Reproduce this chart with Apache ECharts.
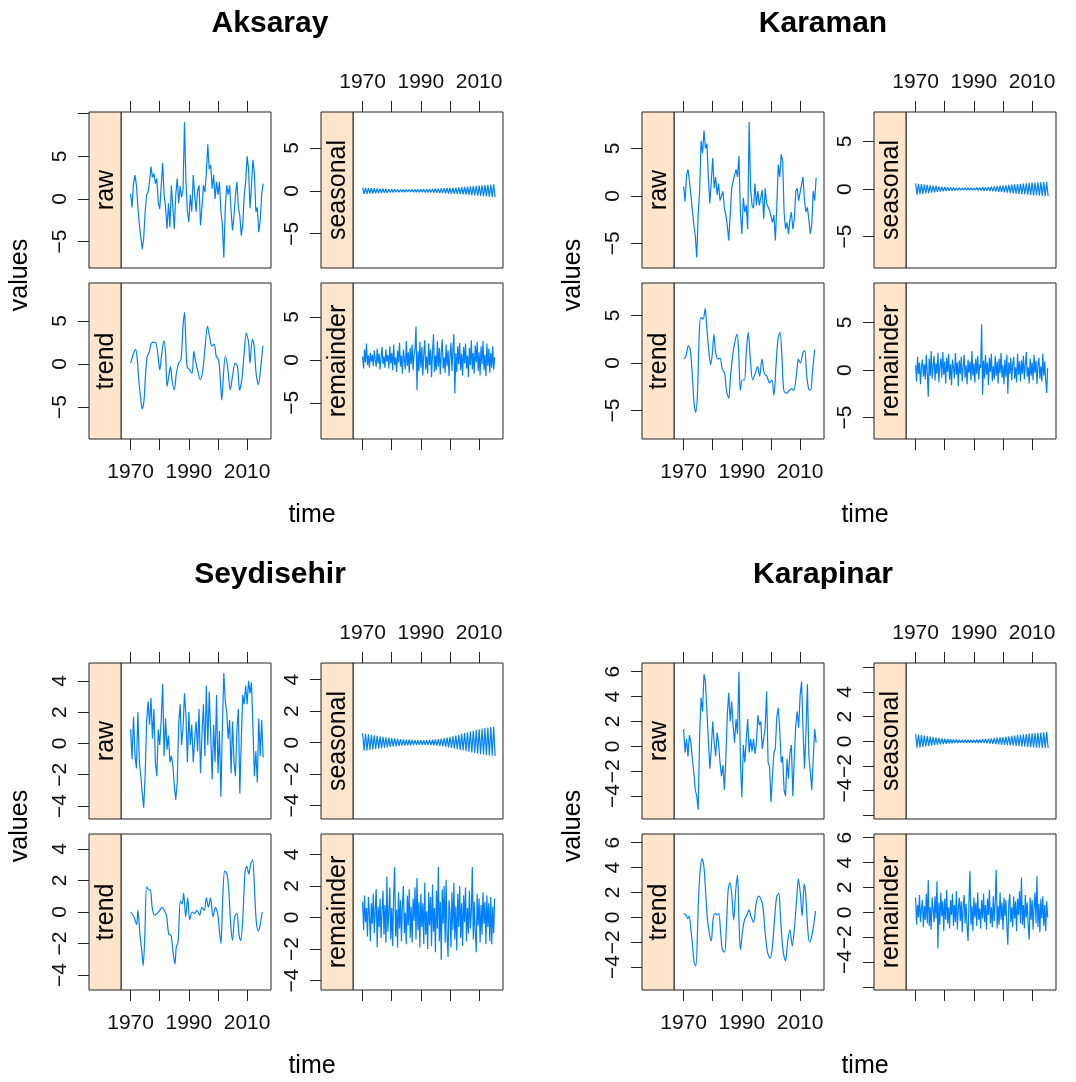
<!DOCTYPE html>
<html>
<head>
<meta charset="utf-8">
<title>STL decomposition by station</title>
<script src="https://cdn.jsdelivr.net/npm/echarts@6/dist/echarts.min.js"></script>
<style>
  html, body { margin: 0; padding: 0; background: #fff; }
  #chart { width: 1076px; height: 1082px; }
</style>
</head>
<body>
<div id="chart"></div>
<script>
// ---- data ----
const stations = ['Aksaray', 'Karaman', 'Seydisehir', 'Karapinar']
const components = ['raw', 'seasonal', 'trend', 'remainder']
const yearTicks = [1970, 1980, 1990, 2000, 2010]
const yearLabels = [1970, 1990, 2010]

// raw: one value every half year from 1970.0
const aksarayRaw = [0.6, -1.0, 1.8, 2.8, 1.6, -1.0, -3.0, -4.5, -5.9, -4.6, -1.5, 0.5, 0.8, 2.0, 3.8, 2.5, 3.0, 1.8, 2.4, -0.4,
  -1.2, 1.5, 4.2, 0.5, -1.0, -3.5, -0.5, -3.3, 1.6, -1.0, -3.5, 0.5, 2.4, -0.5, 1.5, 0.2, 1.0, 9.0, 2.0, -1.5,
  -2.7, 0.5, -1.5, 2.8, 0.5, -1.5, 1.0, 1.6, -3.1, -1.0, 1.6, 0.8, 3.0, 6.4, 3.5, 4.0, 1.2, 2.8, 0.0, 2.0,
  0.5, 2.0, -1.5, -3.0, -6.9, -1.0, 1.6, 0.5, 1.6, -1.5, -3.7, -2.0, 0.5, 2.0, -1.0, -2.0, -4.3, -3.0, 0.4, 2.0,
  5.0, 3.5, -1.1, 1.5, 4.6, 3.0, -1.5, -1.0, -3.9, -2.5, 0.5, 1.8]
const karamanRaw = [1.0, -0.6, 2.2, 2.8, 1.6, 1.8, -1.5, -3.0, -4.2, -6.5, -2.0, 0.5, 5.8, 4.5, 6.9, 5.0, 5.5, 2.0, -0.8, 1.5,
  4.0, 0.8, 2.0, 0.1, 1.3, -0.5, -0.6, 0.5, -1.3, -2.0, -3.1, -4.7, -2.0, 0.8, 1.5, 2.2, 2.8, 2.0, 4.2, -1.7,
  -4.0, -0.2, -1.7, -1.0, -3.5, 7.8, 0.8, -1.0, -1.3, 1.3, -1.0, 0.5, -1.0, -0.2, 0.6, -2.4, 0.8, -0.8, -0.6, -1.5,
  -1.7, -2.8, -2.0, -4.7, -1.0, 3.3, 2.0, 4.4, 3.7, -1.7, -3.5, -2.8, -4.0, -2.5, -1.7, -3.5, -2.5, 0.5, 0.8, -0.5,
  -0.6, 1.2, 2.0, -0.5, -1.7, -1.2, -2.5, -4.0, -3.0, 0.5, -0.5, 1.9]
const seydisehirRaw = [0.9, -1.0, 1.7, -0.8, -1.6, 2.0, -1.2, -2.1, -3.2, -4.1, -2.0, 1.4, 2.7, 1.2, 2.9, 0.3, 2.2, -1.2, -2.1, 0.9,
  -0.1, 1.5, 3.8, -0.8, 1.6, -0.4, 0.5, -1.2, -0.8, -1.4, -2.7, -3.6, -2.5, 1.2, 2.5, -0.1, 1.0, 3.2, 1.8, -1.2,
  2.0, -0.1, 1.2, -1.2, 0.3, 1.4, -0.5, 2.2, -1.9, 0.6, 2.5, -0.8, 3.7, -0.1, 3.3, 0.5, -2.3, 1.2, -1.2, 3.1,
  -1.9, 0.8, -3.4, 1.0, 4.5, 2.7, 2.0, 0.3, 1.5, -1.9, 1.4, -1.2, -2.1, 0.9, 2.2, -3.2, 0.2, 3.1, 2.5, 3.7,
  2.5, 4.0, 3.2, 3.9, 1.0, -2.1, -0.5, -2.5, 1.6, -0.8, 1.5, -0.9]
const karapinarRaw = [1.4, -0.5, 0.6, -0.8, 0.9, 0.3, -1.0, -2.1, -3.5, -4.0, -5.1, 0.9, 3.9, 2.8, 5.8, 5.2, 2.8, 0.5, -1.8, -0.2,
  2.0, 0.3, -0.8, 1.1, 0.3, -1.3, -2.4, -1.5, -3.5, -1.0, 2.5, 4.3, 2.0, 3.6, 1.7, 0.3, 2.2, 1.0, 6.0, -1.3,
  -4.1, 0.1, -1.3, 0.5, 2.2, -0.5, 0.6, -0.4, 0.6, -0.6, 0.3, 2.5, 1.7, 2.0, -0.2, 0.6, 1.5, 4.4, -1.3, -1.6,
  -4.5, -2.4, -0.5, -0.2, 2.4, 3.1, 1.4, -1.3, -0.8, -3.5, -4.0, -1.0, -2.6, -0.5, 0.1, -4.0, -1.0, 1.7, 2.8, 1.5,
  4.1, 5.2, 1.4, -1.8, 1.0, 5.0, -0.8, -2.0, -3.5, -1.0, 1.4, 0.3]

// seasonal: alternating half-year extremes from 1970.0
const aksaraySeasonal = [0.38, -0.36, 0.36, -0.35, 0.34, -0.33, 0.32, -0.31, 0.30, -0.29, 0.28, -0.27, 0.26, -0.25, 0.24, -0.23, 0.22, -0.21, 0.20, -0.20,
  0.19, -0.18, 0.18, -0.17, 0.17, -0.16, 0.16, -0.15, 0.15, -0.15, 0.15, -0.14, 0.15, -0.14, 0.15, -0.15, 0.16, -0.15, 0.17, -0.16,
  0.18, -0.17, 0.19, -0.18, 0.20, -0.19, 0.21, -0.20, 0.22, -0.21, 0.24, -0.23, 0.26, -0.25, 0.28, -0.27, 0.30, -0.29, 0.32, -0.31,
  0.34, -0.33, 0.36, -0.35, 0.38, -0.37, 0.40, -0.39, 0.43, -0.42, 0.46, -0.45, 0.49, -0.48, 0.52, -0.51, 0.55, -0.54, 0.58, -0.57,
  0.61, -0.60, 0.64, -0.63, 0.67, -0.66, 0.70, -0.69, 0.72, -0.71, 0.75, -0.73]
const karamanSeasonal = [0.60, -0.58, 0.56, -0.54, 0.52, -0.50, 0.48, -0.46, 0.44, -0.42, 0.40, -0.38, 0.36, -0.34, 0.32, -0.30, 0.28, -0.27, 0.25, -0.24,
  0.22, -0.21, 0.20, -0.19, 0.18, -0.17, 0.16, -0.15, 0.14, -0.14, 0.13, -0.13, 0.12, -0.12, 0.12, -0.12, 0.12, -0.12, 0.13, -0.12,
  0.14, -0.13, 0.15, -0.14, 0.16, -0.15, 0.18, -0.17, 0.20, -0.19, 0.22, -0.21, 0.25, -0.24, 0.28, -0.27, 0.31, -0.30, 0.34, -0.33,
  0.37, -0.36, 0.40, -0.39, 0.43, -0.42, 0.46, -0.45, 0.49, -0.48, 0.52, -0.51, 0.55, -0.54, 0.58, -0.57, 0.61, -0.60, 0.64, -0.63,
  0.67, -0.66, 0.69, -0.68, 0.71, -0.70, 0.73, -0.72, 0.75, -0.74, 0.77, -0.76]
const seydisehirSeasonal = [0.60, -0.52, 0.56, -0.50, 0.52, -0.47, 0.49, -0.44, 0.46, -0.41, 0.43, -0.38, 0.40, -0.35, 0.37, -0.33, 0.34, -0.30, 0.31, -0.28,
  0.28, -0.26, 0.26, -0.24, 0.24, -0.22, 0.22, -0.20, 0.20, -0.19, 0.19, -0.18, 0.18, -0.17, 0.17, -0.16, 0.16, -0.15, 0.15, -0.15,
  0.15, -0.15, 0.15, -0.15, 0.16, -0.15, 0.17, -0.16, 0.18, -0.17, 0.20, -0.19, 0.22, -0.21, 0.25, -0.24, 0.28, -0.27, 0.32, -0.30,
  0.36, -0.34, 0.40, -0.38, 0.45, -0.42, 0.50, -0.46, 0.55, -0.50, 0.60, -0.54, 0.65, -0.58, 0.70, -0.62, 0.75, -0.66, 0.80, -0.70,
  0.85, -0.74, 0.89, -0.77, 0.93, -0.80, 0.96, -0.82, 0.98, -0.84, 1.00, -0.85]
const karapinarSeasonal = [0.58, -0.52, 0.54, -0.49, 0.50, -0.46, 0.46, -0.42, 0.42, -0.38, 0.38, -0.35, 0.34, -0.31, 0.30, -0.28, 0.27, -0.25, 0.24, -0.22,
  0.21, -0.20, 0.19, -0.18, 0.17, -0.16, 0.15, -0.14, 0.14, -0.13, 0.13, -0.12, 0.12, -0.12, 0.12, -0.11, 0.12, -0.11, 0.12, -0.12,
  0.13, -0.12, 0.14, -0.13, 0.15, -0.14, 0.17, -0.15, 0.19, -0.17, 0.21, -0.19, 0.23, -0.21, 0.26, -0.23, 0.29, -0.25, 0.32, -0.28,
  0.35, -0.30, 0.38, -0.32, 0.41, -0.34, 0.44, -0.36, 0.47, -0.38, 0.50, -0.40, 0.53, -0.42, 0.56, -0.44, 0.59, -0.46, 0.62, -0.48,
  0.65, -0.50, 0.67, -0.51, 0.69, -0.52, 0.71, -0.53, 0.73, -0.54, 0.75, -0.55]

// trend: [year, value] pairs
const aksarayTrend = [[1970, 0.1], [1971.1, 1.3], [1971.7, 1.7], [1972.3, 0.5], [1972.8, -1.8], [1973.4, -3.8], [1974, -5.2], [1974.6, -4.2], [1975.1, -1.4], [1975.7, 0.9],
  [1976.3, 1.3], [1977.4, 2.5], [1978.5, 2.5], [1979.3, 1.3], [1980, -0.7], [1980.6, 0.9], [1981.4, 2.7], [1982, 1.3], [1982.5, -2.6], [1983.1, -1.4],
  [1983.7, -0.3], [1984.2, -1.8], [1985, -3.0], [1985.7, -1.1], [1986.5, 0.1], [1987.3, 0.5], [1988, 4.4], [1988.5, 6.0], [1988.9, 3.2], [1989.4, -0.3],
  [1990.3, -0.7], [1991.1, -1.1], [1991.7, 1.5], [1992.2, 0.5], [1993, -0.7], [1993.9, -1.8], [1994.8, -0.7], [1995.6, 2.1], [1996.4, 4.4], [1997.1, 3.2],
  [1997.9, 2.1], [1998.7, 2.3], [1999.4, 0.9], [2000.2, 0.5], [2000.8, -1.8], [2001.3, -4.2], [2001.9, -1.1], [2002.5, 0.9], [2003.3, -0.3], [2004.2, -3.0],
  [2005, -1.4], [2005.9, 0.1], [2006.7, -0.3], [2007.4, -3.0], [2008.2, -1.8], [2009, 1.3], [2009.7, 3.6], [2010.5, 2.5], [2011, 0.1], [2011.8, 2.9],
  [2012.4, 2.1], [2013.1, -1.1], [2013.9, -2.4], [2014.7, -0.3], [2015.4, 2.1]]
const karamanTrend = [[1970, 0.4], [1970.8, 0.7], [1971.6, 1.8], [1972.3, 1.4], [1973.1, -1.8], [1973.6, -4.3], [1974.2, -5.2], [1974.8, -2.9], [1975.3, 2.5], [1975.9, 4.8],
  [1976.7, 4.6], [1977.4, 5.7], [1977.9, 3.9], [1978.7, 1.1], [1979.3, -0.2], [1979.9, 1.1], [1980.4, 3.0], [1981, 1.1], [1981.8, 0.4], [1982.5, 0.5],
  [1983.3, -0.7], [1984.1, -1.1], [1984.7, -2.9], [1985.5, -3.7], [1986.1, -1.4], [1987, 1.1], [1987.8, 2.5], [1988.4, 3.0], [1988.9, 1.1], [1989.5, -2.9],
  [1990.1, -1.8], [1990.9, -1.8], [1991.5, 1.1], [1992.2, 3.2], [1992.9, 0.4], [1993.7, -1.8], [1994.6, -1.1], [1995.4, -0.4], [1996.1, -1.4], [1996.9, 0.4],
  [1997.7, -1.1], [1998.6, -1.4], [1999.5, -2.1], [2000.3, -1.8], [2001, -3.4], [2001.7, -0.4], [2002.4, 2.5], [2003.1, 3.2], [2003.8, 0.4], [2004.4, -2.9],
  [2005.4, -3.2], [2006.3, -2.9], [2007.1, -2.7], [2007.8, -2.9], [2008.8, -1.1], [2009.4, 0.4], [2010.1, 0], [2011, 1.1], [2011.6, 1.3], [2012.2, -1.1],
  [2012.9, -2.7], [2013.6, -2.9], [2014.2, -1.1], [2015, 1.4]]
const seydisehirTrend = [[1970, 0], [1971.1, -0.3], [1972.1, -0.8], [1972.5, 0.1], [1973.2, -1.4], [1973.9, -2.6], [1974.3, -3.4], [1974.9, -1.4], [1975.5, 1.6], [1976.3, 1.4],
  [1976.8, 1.4], [1977.4, 0.3], [1978.2, -0.2], [1979.1, -0.1], [1980, 0.1], [1980.8, 0.3], [1981.6, 0.1], [1982.3, -0.2], [1983.1, -1.4], [1983.9, -1.5],
  [1984.6, -2.6], [1985.2, -3.3], [1985.7, -2.2], [1986.3, -1.9], [1987.1, 0.7], [1987.7, 0.5], [1988.2, 1.2], [1988.9, -0.3], [1989.6, 0.9], [1990.3, -0.5],
  [1991.1, 0], [1991.9, -0.1], [1992.8, 0.1], [1993.7, -0.2], [1994.5, 0.3], [1995.3, 0.1], [1996, 0.9], [1996.7, 0.3], [1997.4, 0.9], [1998.3, -0.3],
  [1999.1, 0.3], [1999.9, -0.1], [2000.5, -1.2], [2001, -2.0], [2001.6, 0.7], [2002.3, 2.6], [2003.1, 2.4], [2003.7, 1.4], [2004.4, -0.9], [2005, -1.8],
  [2005.7, -0.3], [2006.5, -0.1], [2007.2, -1.4], [2007.8, -1.8], [2008.5, -0.5], [2009.3, 2.6], [2009.9, 2.9], [2010.6, 2.4], [2011.3, 3.1], [2011.9, 3.3],
  [2012.5, 1.6], [2013.1, -0.5], [2013.8, -1.2], [2014.4, -0.9], [2015.2, 0]]
const karapinarTrend = [[1970, 0.3], [1970.8, 0.2], [1971.4, -0.1], [1971.9, 0.1], [1972.5, -1.0], [1973.1, -2.3], [1973.6, -3.6], [1974.2, -3.9], [1974.8, -1.0], [1975.1, 1.4],
  [1975.7, 3.8], [1976.3, 4.7], [1977, 4.0], [1977.6, 1.9], [1978.2, -0.2], [1979, -1.5], [1979.5, -1.9], [1980.1, -0.2], [1980.7, 0.3], [1981.6, 0.2],
  [1982.1, 0.3], [1982.7, -1.2], [1983.3, -2.6], [1984.1, -2.8], [1984.7, -0.7], [1985.3, 2.2], [1985.9, 2.8], [1986.5, 1.9], [1987.2, -0.2], [1987.9, 2.2],
  [1988.5, 3.4], [1989, -0.2], [1989.5, -2.6], [1990.2, -1.2], [1990.9, -0.2], [1991.8, 0.2], [1992.4, 0.6], [1993.1, 0.1], [1994, -0.4], [1994.9, 1.1],
  [1995.7, 1.7], [1996.5, 1.5], [1997.2, 0.9], [1998, -1.2], [1998.8, -2.8], [1999.7, -3.3], [2000.5, -2.3], [2001.3, 0.1], [2002, 1.7], [2002.7, 1.9],
  [2003.3, -0.2], [2004.2, -2.8], [2005, -3.5], [2005.7, -2.0], [2006.5, -1.0], [2007.3, -2.3], [2008, -1.0], [2008.8, 1.4], [2009.4, 3.1], [2010.1, 1.9],
  [2010.7, 0.1], [2011.4, 2.7], [2011.9, 1.9], [2012.7, -1.2], [2013.3, -2.0], [2014, -1.5], [2014.6, -0.7], [2015.3, 0.5]]

// remainder: one value every third of a year from 1970.0
const aksarayRemainder = [0.4, -1.0, 1.2, -0.3, 1.9, -0.6, 0.5, -0.9, 0.8, -0.2,
  0.6, -0.7, 1.1, 0.0, -0.8, 1.3, -0.4, 0.7, -1.1, 0.3,
  1.5, -0.5, 0.4, -0.9, 1.2, -0.2, 0.6, -1.0, 1.6, -0.4,
  0.8, -1.2, 1.8, -0.6, 0.3, -1.4, 1.1, -0.3, 2.0, -0.8,
  0.5, -1.6, 1.2, 0.1, -1.1, 2.2, -0.7, 0.9, -1.5, 1.4,
  -0.5, 1.8, -1.2, 0.6, 1.3, 3.9, -3.5, 1.0, -1.3, 2.1,
  -0.9, 1.5, -1.8, 0.7, 2.3, -1.1, 0.4, -1.6, 1.9, -0.6,
  1.2, -2.0, 0.8, 3.0, -1.4, 0.5, -1.2, 2.2, -0.8, 1.4,
  -1.7, 0.9, 2.4, -1.0, 0.3, -1.5, 1.8, -0.7, 1.1, -1.9,
  0.6, 2.0, -1.3, 1.2, 3.0, -3.9, 0.8, -1.4, 1.6, -0.5,
  2.0, -1.2, 0.7, -1.8, 1.5, -0.4, 1.9, -1.0, 0.5, -2.0,
  1.4, -0.6, 2.3, -1.1, 0.8, -1.6, 1.7, -0.3, 2.1, -1.3,
  0.9, -1.8, 1.6, -0.5, 2.2, -1.2, 0.6, -1.9, 1.9, -0.7,
  1.3, -1.5, 0.8, -0.9, 1.6, -1.1, 0.3]
const karamanRemainder = [0.5, -1.2, 1.4, -0.4, 0.8, -1.5, 0.3, 1.1, -0.7, 0.6,
  -1.0, 1.6, -0.3, -2.8, 1.2, -0.6, 2.0, -0.9, 0.4, 1.5,
  -1.1, 0.7, -0.4, 1.8, -1.3, 0.5, 1.2, -0.8, 1.9, -0.5,
  0.9, -1.4, 1.3, -0.2, 1.7, -1.0, 0.6, -1.6, 1.1, 0.2,
  -0.9, 1.8, -0.5, 0.8, -1.7, 1.0, -0.4, 1.4, -1.2, 0.3,
  1.6, -0.8, 0.5, -1.5, 1.1, -0.3, 0.9, -1.1, 2.0, -0.6,
  0.7, -1.3, 1.2, -0.4, 1.5, -1.0, 0.6, 0.2, 4.8, -2.6,
  1.0, -0.9, 1.6, -0.5, 0.8, -1.6, 1.3, -0.2, 1.7, -1.2,
  0.4, -1.0, 1.5, -0.6, 0.9, -1.4, 1.2, -0.3, 1.8, -0.8,
  0.5, -1.5, 1.1, -0.7, 1.6, -2.5, 0.8, -0.4, 1.3, -1.1,
  0.6, 1.4, -0.9, 0.3, -1.3, 1.7, -0.5, 0.9, -1.2, 1.0,
  -0.4, 1.5, -1.0, 0.6, 1.9, -0.7, 0.3, -1.4, 1.2, -0.6,
  0.8, -1.1, 1.6, -0.3, 1.0, -1.5, 0.5, 1.3, -0.9, 0.4,
  -1.2, 1.7, -0.6, 0.9, -1.0, -2.4, 0.2]
const seydisehirRemainder = [1.0, -0.8, 1.4, -0.3, 0.6, -1.2, 1.3, 0.2, -1.5, 0.9,
  -0.4, 1.5, -1.0, 0.5, 1.8, -1.9, 0.7, -0.6, 1.2, -1.3,
  0.4, 1.7, -1.1, 0.8, -1.6, 2.6, -0.9, 0.3, 1.9, -1.4,
  0.6, -1.8, 1.5, 3.2, -1.2, 0.5, -1.9, 1.6, -0.7, 1.1,
  -1.5, 0.8, 2.0, -1.0, 0.3, -1.7, 1.4, -0.5, 1.8, -1.3,
  0.7, -1.6, 1.2, -0.2, 1.9, -1.4, 2.5, -0.8, 1.0, -1.9,
  1.5, -0.6, 0.9, -1.7, 2.2, -1.1, 0.4, -2.0, 1.6, -0.5,
  1.3, -1.8, 2.1, -0.9, 0.6, -2.2, 1.7, -0.7, 3.2, -1.5,
  1.0, -2.7, 1.8, -0.4, 2.0, -1.6, 2.4, -1.2, -2.5, 1.1,
  0.3, -1.9, 1.6, -0.8, 2.2, -1.4, 0.7, -2.1, 1.5, -0.6,
  2.0, -1.3, 0.9, -1.8, 1.4, -0.3, 1.9, -1.5, 0.6, -1.0,
  1.7, -0.7, 0.4, 3.2, -1.4, 1.0, -0.9, -2.2, 1.5, -0.5,
  1.2, -1.6, 0.8, -1.1, 1.6, -0.4, 1.0, -1.7, 1.4, -0.6,
  0.9, -1.5, 1.3, -1.7, 0.7, -1.0, 1.2]
const karapinarRemainder = [1.2, -1.0, 0.6, -0.4, 1.4, -0.8, 0.3, 1.0, -1.2, 0.5,
  -0.6, 1.5, -0.9, 2.6, -1.1, 0.4, -1.4, 1.2, 0.2, -0.8,
  1.3, -0.5, 2.5, -2.9, 0.8, -1.0, 1.6, -0.3, 0.9, -1.5,
  1.1, -0.6, 1.8, -0.9, 0.4, -1.3, 1.0, -0.2, 1.5, -1.1,
  0.6, -0.8, 1.7, -1.4, 0.3, 1.2, -0.7, 0.9, -1.6, 0.5,
  1.4, -0.9, 0.7, -1.2, -2.3, 1.0, 3.3, -1.0, 0.5, -1.5,
  1.2, -0.4, 0.8, -1.1, 1.6, -0.6, 0.3, -1.3, 1.0, -0.5,
  1.5, -0.8, 0.6, -1.4, 1.1, -0.2, 1.8, -0.9, 0.4, -1.2,
  1.3, -0.7, 0.9, 3.4, -1.3, 0.5, -1.0, 1.6, -0.6, 0.8,
  -1.4, 1.2, -0.3, 1.0, -1.1, -2.6, 0.7, 1.5, -0.8, 0.4,
  -1.2, 1.3, -0.5, 0.9, -1.5, 1.1, -0.2, 1.7, -0.9, 2.8,
  -1.0, 0.6, -1.3, 1.4, -0.4, 0.8, -1.1, -2.2, 1.2, -0.6,
  1.0, -1.4, 0.5, 1.6, -0.9, 2.9, -1.2, 0.7, -1.6, 1.1,
  -0.5, 1.3, -1.1, 0.6, -1.5, 0.9, -0.4]

// y ranges of each panel (sliced scales) and their tick / label values
const yRanges = {
  Aksaray: { raw: [-8.1, 10.2], seasonal: [-9.0, 9.2], trend: [-8.7, 9.4], remainder: [-9.2, 8.95] },
  Karaman: { raw: [-7.6, 8.85], seasonal: [-8.3, 8.1], trend: [-8.0, 8.4], remainder: [-7.25, 9.15] },
  Seydisehir: { raw: [-4.83, 5.14], seasonal: [-4.85, 5.05], trend: [-4.95, 4.95], remainder: [-4.6, 5.3] },
  Karapinar: { raw: [-5.84, 6.7], seasonal: [-6.3, 6.35], trend: [-5.84, 6.7], remainder: [-6.24, 6.3] }
}
const fiveTicks = [-5, 0, 5]
const twoTicks = [-4, -2, 0, 2, 4]
const yTicks = {
  Aksaray: { raw: [[-5, 0, 5, 10], fiveTicks], seasonal: [fiveTicks, fiveTicks], trend: [fiveTicks, fiveTicks], remainder: [fiveTicks, fiveTicks] },
  Karaman: { raw: [fiveTicks, fiveTicks], seasonal: [fiveTicks, fiveTicks], trend: [fiveTicks, fiveTicks], remainder: [fiveTicks, fiveTicks] },
  Seydisehir: { raw: [twoTicks, twoTicks], seasonal: [twoTicks, twoTicks], trend: [twoTicks, twoTicks], remainder: [twoTicks, twoTicks] },
  Karapinar: {
    raw: [[-4, -2, 0, 2, 4, 6], [-4, -2, 0, 2, 4, 6]],
    seasonal: [[-6, -4, -2, 0, 2, 4, 6], twoTicks],
    trend: [[-4, -2, 0, 2, 4, 6], [-4, -2, 0, 2, 4, 6]],
    remainder: [[-6, -4, -2, 0, 2, 4, 6], [-4, -2, 0, 2, 4, 6]]
  }
}

// ---- layout ----
const FONT = "'Liberation Sans', Arial, Helvetica, sans-serif"
const INK = '#111'
const LINE = '#0080FF'
const STRIP = '#FFE5CC'
const blockOffsets = [[0, 0], [553, 0], [0, 551], [553, 551]]
const colLeft = [89, 321]
const rowTop = [112, 283]
const stripW = 32
const plotW = 150
const plotH = 156
const xMin = 1966.7
const xMax = 2018.2

const halfYear = vals => vals.map((v, i) => [1970 + i * 0.5, v])
const thirdYear = vals => vals.map((v, i) => [1970 + i / 3, v])

const seriesData = {
  Aksaray: { raw: halfYear(aksarayRaw), seasonal: halfYear(aksaraySeasonal), trend: aksarayTrend, remainder: thirdYear(aksarayRemainder) },
  Karaman: { raw: halfYear(karamanRaw), seasonal: halfYear(karamanSeasonal), trend: karamanTrend, remainder: thirdYear(karamanRemainder) },
  Seydisehir: { raw: halfYear(seydisehirRaw), seasonal: halfYear(seydisehirSeasonal), trend: seydisehirTrend, remainder: thirdYear(seydisehirRemainder) },
  Karapinar: { raw: halfYear(karapinarRaw), seasonal: halfYear(karapinarSeasonal), trend: karapinarTrend, remainder: thirdYear(karapinarRemainder) }
}

// raw top-left, seasonal top-right, trend bottom-left, remainder bottom-right
const cellOf = { raw: [0, 0], seasonal: [0, 1], trend: [1, 0], remainder: [1, 1] }

const minus = v => (v < 0 ? '\u2212' + Math.abs(v) : String(v))

const grids = []
const xAxes = []
const yAxes = []
const series = []
const graphics = []

const txt = (x, y, text, size, extra) => Object.assign({
  type: 'text',
  x: x,
  y: y,
  silent: true,
  style: {
    text: text,
    font: (extra && extra.bold ? 'bold ' : '') + size + 'px ' + FONT,
    fill: '#000',
    align: 'center',
    verticalAlign: 'middle',
    textAlign: 'center',
    textVerticalAlign: 'middle'
  }
}, extra && extra.rotation ? { rotation: extra.rotation } : {})

stations.forEach((name, s) => {
  const [ox, oy] = blockOffsets[s]

  graphics.push(txt(ox + 270, oy + 24, name, 30, { bold: true }))
  graphics.push(txt(ox + 20, oy + 275, 'values', 25, { rotation: Math.PI / 2 }))
  graphics.push(txt(ox + 312, oy + 515, 'time', 25))

  components.forEach(comp => {
    const [r, c] = cellOf[comp]
    const k = grids.length
    const boxLeft = ox + colLeft[c]
    const top = oy + rowTop[r]
    const showXLabels = (r === 0 && c === 1) || (r === 1 && c === 0)
    const [tickVals, labelVals] = yTicks[name][comp]

    grids.push({
      left: boxLeft + stripW,
      top: top,
      width: plotW,
      height: plotH,
      show: true,
      borderColor: '#222',
      borderWidth: 1,
      backgroundColor: 'transparent'
    })

    xAxes.push({
      gridIndex: k,
      type: 'value',
      min: xMin,
      max: xMax,
      position: r === 0 ? 'top' : 'bottom',
      axisLine: { show: false, onZero: false },
      splitLine: { show: false },
      axisTick: { show: true, length: 11, customValues: yearTicks, lineStyle: { color: '#222', width: 1 } },
      axisLabel: {
        show: showXLabels,
        customValues: yearLabels,
        fontSize: 21,
        fontFamily: FONT,
        color: INK,
        margin: r === 0 ? 19 : 23,
        formatter: v => String(v)
      }
    })

    yAxes.push({
      gridIndex: k,
      type: 'value',
      min: yRanges[name][comp][0],
      max: yRanges[name][comp][1],
      position: 'left',
      offset: stripW,
      axisLine: { show: false, onZero: false },
      splitLine: { show: false },
      axisTick: { show: true, length: 11, customValues: tickVals, lineStyle: { color: '#222', width: 1 } },
      axisLabel: {
        customValues: labelVals,
        rotate: 90,
        fontSize: 21,
        fontFamily: FONT,
        color: INK,
        margin: 18,
        formatter: minus
      }
    })

    series.push({
      type: 'line',
      name: name + ' ' + comp,
      xAxisIndex: k,
      yAxisIndex: k,
      data: seriesData[name][comp],
      showSymbol: false,
      symbol: 'none',
      smooth: comp === 'trend' ? 0.3 : false,
      lineStyle: { color: LINE, width: 1.2 },
      animation: false
    })

    // strip on the left of each panel
    graphics.push({
      type: 'rect',
      silent: true,
      shape: { x: boxLeft, y: top, width: stripW, height: plotH },
      style: { fill: STRIP, stroke: '#222', lineWidth: 1 }
    })
    graphics.push(txt(boxLeft + stripW / 2 + 1, top + plotH / 2, comp, 25, { rotation: Math.PI / 2 }))
  })
})

const chart = echarts.init(document.getElementById('chart'))
chart.setOption({
  animation: false,
  backgroundColor: '#fff',
  grid: grids,
  xAxis: xAxes,
  yAxis: yAxes,
  series: series,
  graphic: { elements: graphics }
})
</script>
</body>
</html>
